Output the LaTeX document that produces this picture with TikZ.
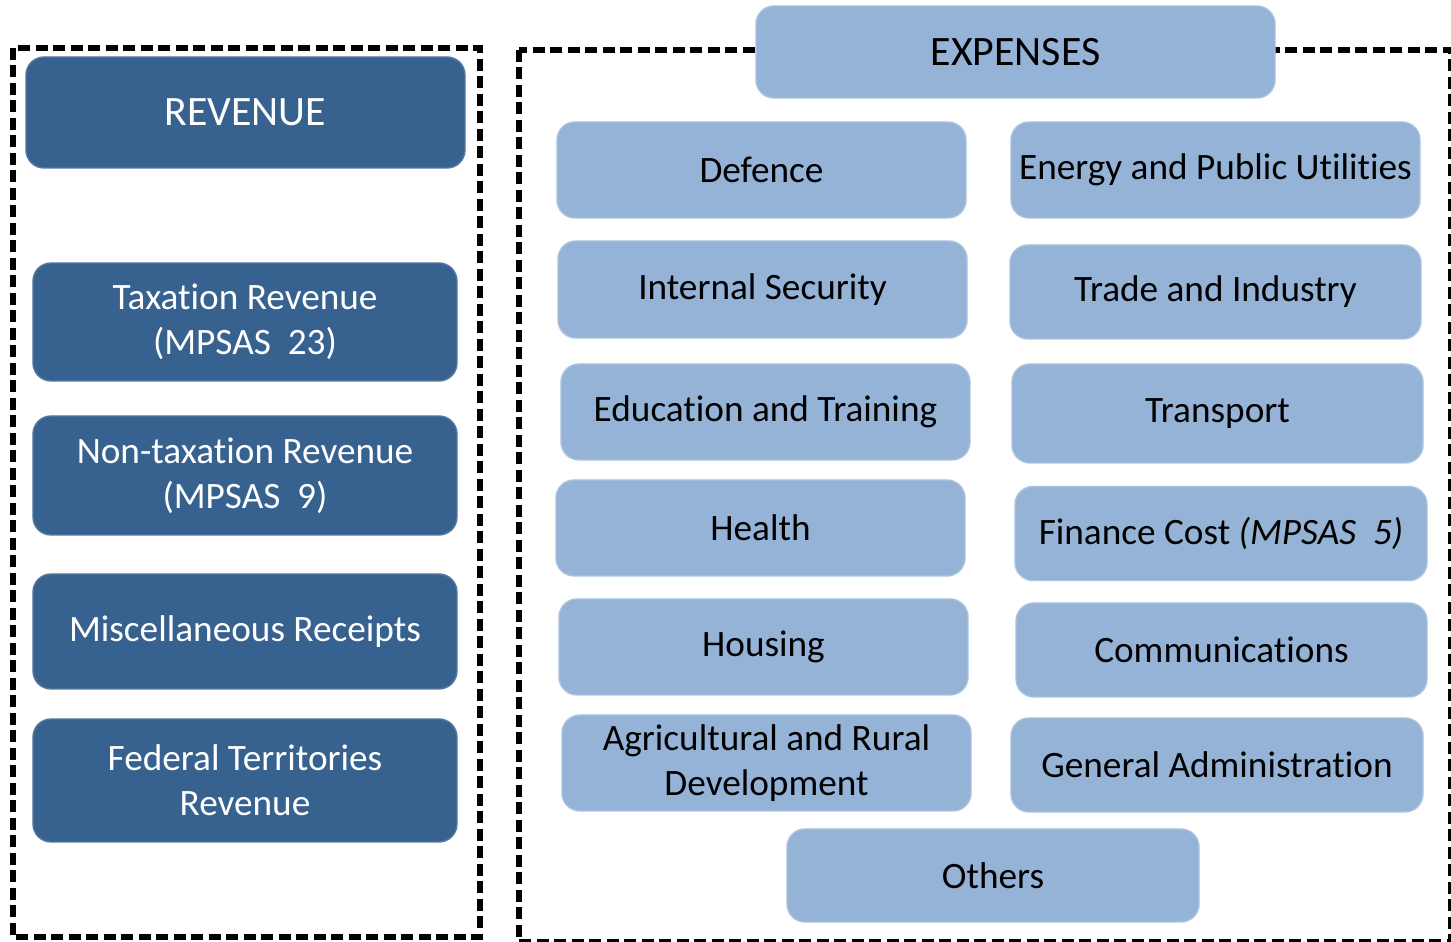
\documentclass[tikz,border=0pt]{standalone}
\usepackage{fontspec}
\setmainfont{Carlito}[RawFeature=-liga]
\usepackage{xcolor}
\usepackage{tikz}

\definecolor{revblue}{HTML}{37618F}
\definecolor{expblue}{HTML}{95B3D7}

\begin{document}
\begin{tikzpicture}[
  frame/.style={draw=black, line width=1.5pt, dash pattern=on 0.12cm off 0.055cm},
  revbox/.style={rectangle, rounded corners=0.18cm, fill=revblue, draw=revblue!85!white, text=white, inner sep=0pt, align=center, font=\fontsize{10.6}{12.8}\selectfont},
  expbox/.style={rectangle, rounded corners=0.18cm, fill=expblue, draw=expblue!80!white, text=black, inner sep=0pt, align=center, font=\fontsize{10.6}{12.8}\selectfont},
  headfont/.style={font=\fontsize{11.9}{14}\selectfont}
]
\useasboundingbox (0,0) rectangle (14.51,-9.42);
% dashed frames
\draw[frame] (0.13,-0.48) rectangle (4.80,-9.37);
\draw[frame] (5.19,-0.50) rectangle (14.51,-9.42);
% revenue side
\node[revbox, headfont, minimum width=4.39cm, minimum height=1.11cm] (revenue) at (2.455,-1.125) {REVENUE};
\node[revbox, minimum width=4.24cm, minimum height=1.18cm] (taxrev) at (2.45,-3.22) {Taxation Revenue\\(MPSAS~~23)};
\node[revbox, minimum width=4.24cm, minimum height=1.19cm] (nontaxrev) at (2.45,-4.755) {Non-taxation Revenue\\(MPSAS~~9)};
\node[revbox, minimum width=4.24cm, minimum height=1.15cm] (misc) at (2.45,-6.315) {Miscellaneous Receipts};
\node[revbox, minimum width=4.24cm, minimum height=1.23cm] (fedterr) at (2.45,-7.805) {Federal Territories\\Revenue};
% expenses side
\node[expbox, headfont, minimum width=5.19cm, minimum height=0.92cm] (expenses) at (10.155,-0.52) {EXPENSES};
\node[expbox, minimum width=4.09cm, minimum height=0.96cm] (defence) at (7.615,-1.70) {Defence};
\node[expbox, minimum width=4.09cm, minimum height=0.97cm] (intsec) at (7.625,-2.895) {Internal Security};
\node[expbox, minimum width=4.09cm, minimum height=0.96cm] (edu) at (7.655,-4.12) {Education and Training};
\node[expbox, minimum width=4.09cm, minimum height=0.96cm] (health) at (7.605,-5.28) {Health};
\node[expbox, minimum width=4.09cm, minimum height=0.96cm] (housing) at (7.635,-6.47) {Housing};
\node[expbox, minimum width=4.09cm, minimum height=0.96cm] (agri) at (7.665,-7.63) {Agricultural and Rural\\Development};
\node[expbox, minimum width=4.09cm, minimum height=0.96cm] (energy) at (12.155,-1.70) {Energy and Public Utilities};
\node[expbox, minimum width=4.11cm, minimum height=0.94cm] (trade) at (12.155,-2.92) {Trade and Industry};
\node[expbox, minimum width=4.11cm, minimum height=0.99cm] (transport) at (12.175,-4.135) {Transport};
\node[expbox, minimum width=4.12cm, minimum height=0.94cm] (finance) at (12.21,-5.335) {Finance Cost \textit{(MPSAS~~5)}};
\node[expbox, minimum width=4.11cm, minimum height=0.94cm] (comms) at (12.215,-6.50) {Communications};
\node[expbox, minimum width=4.12cm, minimum height=0.94cm] (genadmin) at (12.17,-7.65) {General Administration};
\node[expbox, minimum width=4.12cm, minimum height=0.93cm] (others) at (9.93,-8.755) {Others};
\end{tikzpicture}
\end{document}
